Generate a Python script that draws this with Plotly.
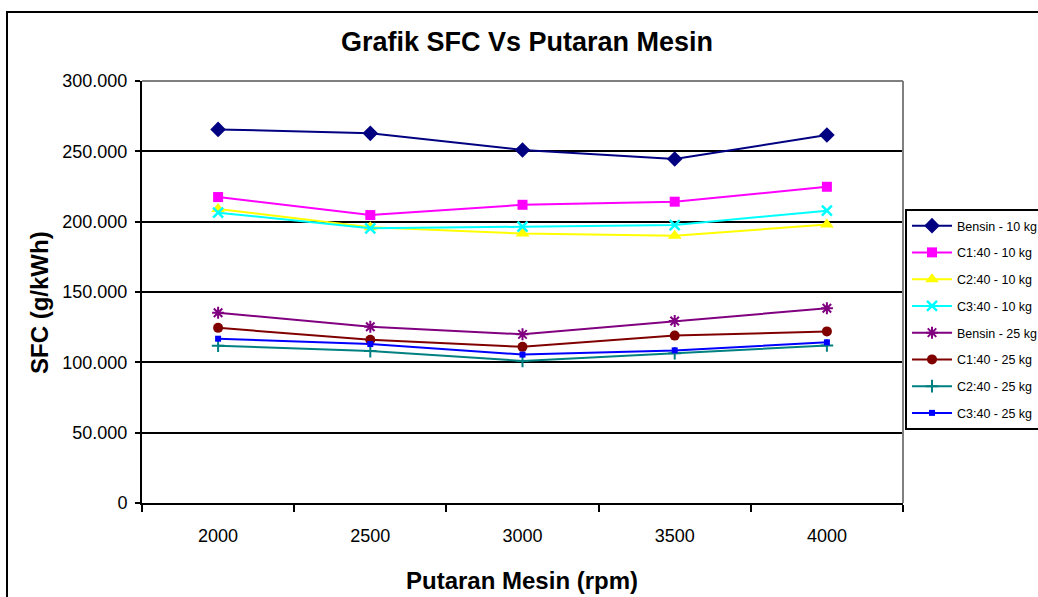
import plotly.graph_objects as go

rpm = ["2000", "2500", "3000", "3500", "4000"]
bensin_10 = [265.6, 262.8, 251.0, 244.5, 261.6]
c1_10 = [217.5, 204.7, 212.0, 214.2, 224.8]
c2_10 = [209.0, 196.0, 191.5, 190.0, 198.0]
c3_10 = [206.4, 195.3, 196.4, 197.6, 207.8]
bensin_25 = [135.3, 125.3, 119.9, 129.4, 138.4]
c1_25 = [124.5, 116.0, 111.0, 119.0, 122.0]
c2_25 = [111.8, 108.0, 101.0, 106.5, 112.0]
c3_25 = [116.8, 113.0, 105.5, 108.5, 114.2]

y_tickvals = [0, 50, 100, 150, 200, 250, 300]
y_ticktext = ["0", "50.000", "100.000", "150.000", "200.000", "250.000", "300.000"]

W, H = 1038, 597
L, R, T, B = 142, 903, 81, 503


def px(x):
    return (x - L) / (R - L)


def py(y):
    return (B - y) / (B - T)


series = [
    ("Bensin - 10 kg", bensin_10, "#000080", dict(symbol="diamond", size=12)),
    ("C1:40 - 10 kg", c1_10, "#FF00FF", dict(symbol="square", size=10)),
    ("C2:40 - 10 kg", c2_10, "#FFFF00", dict(symbol="triangle-up", size=12)),
    ("C3:40 - 10 kg", c3_10, "#00FFFF", dict(symbol="x-thin-open", size=10, line=dict(width=2.5, color="#00FFFF"))),
    ("Bensin - 25 kg", bensin_25, "#800080", dict(symbol="asterisk-open", size=10, line=dict(width=2, color="#800080"))),
    ("C1:40 - 25 kg", c1_25, "#800000", dict(symbol="circle", size=10)),
    ("C2:40 - 25 kg", c2_25, "#008080", dict(symbol="cross-thin-open", size=9, line=dict(width=2, color="#008080"))),
    ("C3:40 - 25 kg", c3_25, "#0000FF", dict(symbol="square", size=6)),
]

fig = go.Figure()
for i, (name, vals, color, mk) in enumerate(series):
    marker = dict(color=color)
    marker.update(mk)
    fig.add_trace(go.Scatter(
        x=rpm, y=vals, name=name, mode="lines+markers",
        line=dict(color=color, width=2), marker=marker,
        legendgroup="g%d" % i,
    ))

axis_font = dict(family="Liberation Sans, Arial, sans-serif", size=18, color="black")

fig.update_layout(
    width=W, height=H,
    margin=dict(l=L, r=W - R, t=T, b=H - B, autoexpand=False),
    paper_bgcolor="white", plot_bgcolor="white",
    showlegend=True,
    legend=dict(
        x=px(905), y=py(209), xanchor="left", yanchor="top",
        bordercolor="black", borderwidth=2, bgcolor="white",
        font=dict(family="Liberation Sans Narrow, Arial Narrow, Liberation Sans, sans-serif", size=12.5, color="black"),
        traceorder="grouped", tracegroupgap=7.5, itemwidth=40,
    ),
    xaxis=dict(
        type="category", range=[-0.5, 4.5], tickson="boundaries",
        ticks="outside", ticklen=7, tickwidth=2, tickcolor="black",
        showline=True, linecolor="black", linewidth=2,
        showgrid=False, zeroline=False, tickfont=axis_font,
        ticklabelstandoff=15,
    ),
    yaxis=dict(
        range=[0, 300], tickvals=y_tickvals, ticktext=y_ticktext,
        ticks="outside", ticklen=5, tickwidth=2, tickcolor="black",
        showline=True, linecolor="black", linewidth=2,
        showgrid=True, gridcolor="black", gridwidth=2, zeroline=False,
        tickfont=axis_font, ticklabelstandoff=4,
    ),
    shapes=[
        dict(type="rect", xref="paper", yref="paper",
             x0=px(7), x1=px(1045), y0=py(12), y1=py(610),
             line=dict(color="black", width=2), layer="below"),
        dict(type="line", xref="paper", yref="paper", x0=0, x1=1, y0=1, y1=1,
             line=dict(color="#808080", width=2), layer="above"),
        dict(type="line", xref="paper", yref="paper", x0=1, x1=1, y0=0, y1=1,
             line=dict(color="#808080", width=2), layer="above"),
    ],
    annotations=[
        dict(text="<b>Grafik SFC Vs Putaran Mesin</b>", xref="paper", yref="paper",
             x=px(527), y=py(42), xanchor="center", yanchor="middle", showarrow=False,
             font=dict(family="Liberation Sans, Arial, sans-serif", size=27, color="black")),
        dict(text="<b>Putaran Mesin (rpm)</b>", xref="paper", yref="paper",
             x=px(522), y=py(580), xanchor="center", yanchor="middle", showarrow=False,
             font=dict(family="Liberation Sans, Arial, sans-serif", size=24, color="black")),
        dict(text="<b>SFC (g/kWh)</b>", xref="paper", yref="paper",
             x=px(39), y=py(303), xanchor="center", yanchor="middle", showarrow=False,
             textangle=-90,
             font=dict(family="Liberation Sans, Arial, sans-serif", size=24, color="black")),
    ],
)

fig.write_html("out.html")
